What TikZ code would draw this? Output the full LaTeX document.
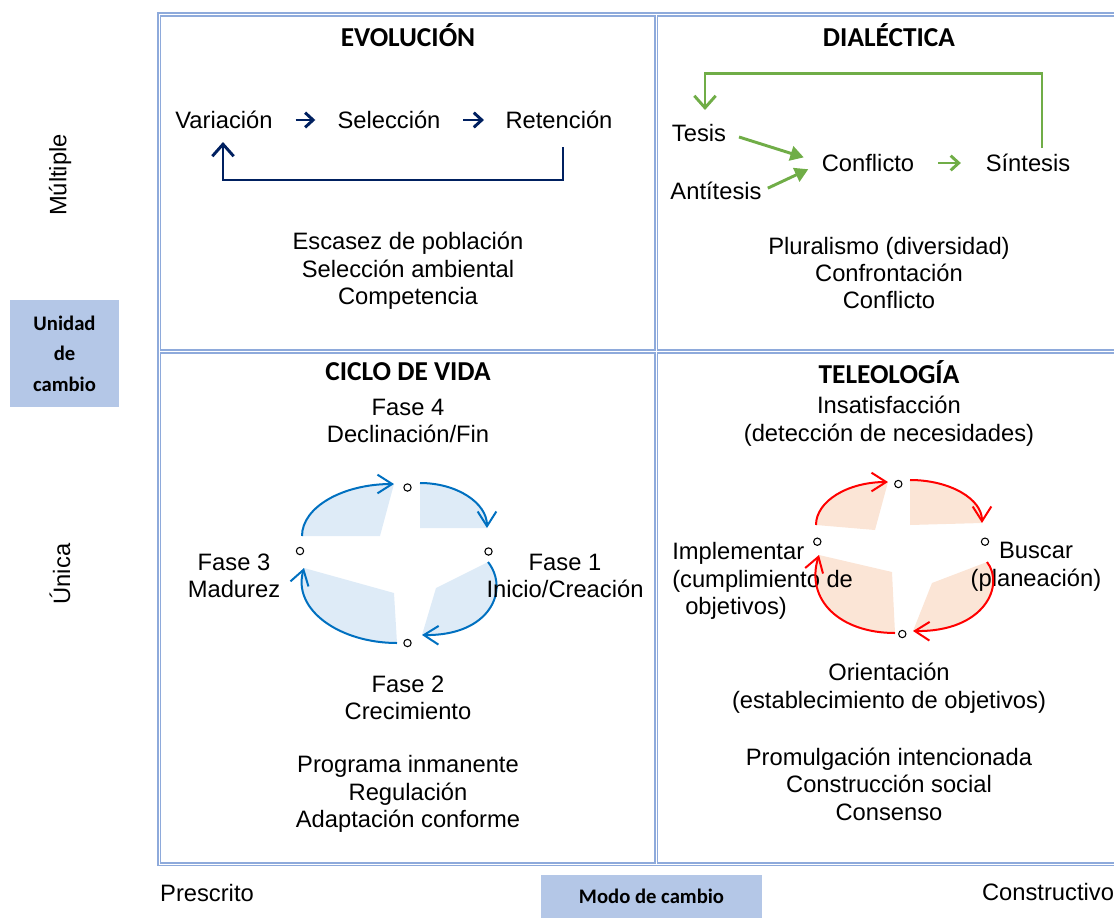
\documentclass[tikz,border=0pt]{standalone}
\usepackage{fontspec}
\setmainfont{Liberation Sans}
\newfontfamily\calibri{Carlito}
\usetikzlibrary{arrows.meta}

\definecolor{gridblue}{HTML}{8EAADB}
\definecolor{boxblue}{HTML}{B4C7E7}
\definecolor{navy}{HTML}{002060}
\definecolor{leafgreen}{HTML}{70AD47}
\definecolor{cycblue}{HTML}{0070C0}
\definecolor{cycfill}{HTML}{DEEBF7}
\definecolor{telred}{HTML}{FF0000}
\definecolor{telfill}{HTML}{FBE5D6}

\tikzset{
  txt/.style={font=\fontsize{17.8}{20.6}\selectfont, inner sep=0pt, align=center},
  head/.style={font=\calibri\bfseries\fontsize{20.5}{24}\selectfont, inner sep=0pt},
  lblbox/.style={fill=boxblue, inner sep=0pt, align=center,
    font=\calibri\bfseries\fontsize{15.5}{22.9}\selectfont},
  dot/.style={circle, draw, line width=0.8pt, fill=white, inner sep=0pt, minimum size=5.5pt},
  smallarr/.style={line width=2.2pt, -{Straight Barb[length=6pt,width=11pt]}},
  loopline/.style={line width=2.2pt, -{Straight Barb[length=9pt,width=16pt]}},
  diaarr/.style={leafgreen, line width=2.2pt, -{Triangle[length=10pt,width=11pt]}},
  cyc/.style={line width=1.5pt, -{Straight Barb[length=11pt,width=14pt]}}
}

\begin{document}
\begin{tikzpicture}[x=0.75pt, y=-0.75pt]
    \useasboundingbox (0,0) rectangle (1114,918);
    \clip (0,0) rectangle (1114,918);

    % Table frame (double rule)
    \foreach \w/\c in {3.1pt/gridblue, 0.9pt/white}
      \draw[line width=\w, draw=\c] (159.3,14.5) rectangle (1130,864.2)
        (656.2,14.5) -- (656.2,864.2) (159.3,351.5) -- (1130,351.5);

    % Side labels
    \node[txt, rotate=90] (mult) at (60,175) {Múltiple};
    \node[txt, rotate=90] (unic) at (60,574) {Única};
    \node[lblbox, minimum width=81.75pt, minimum height=80.25pt] (unidad) at (64.5,353.5) {Unidad\\de\\cambio};
    \node[txt] (presc) at (207,893) {Prescrito};
    \node[lblbox, minimum width=165.75pt, minimum height=32.25pt] (modo) at (651.5,896.5) {Modo de cambio};
    \node[txt] (constr) at (1048,892) {Constructivo};

    % Evolucion
    \node[head] (evo) at (408,35) {EVOLUCIÓN};
    \node[txt] (var) at (224,120) {Variación};
    \node[txt] (sel) at (389,120) {Selección};
    \node[txt] (ret) at (559,120) {Retención};
    \draw[smallarr, navy, shorten <=17pt, shorten >=16.5pt] (var.east) -- (sel.west);
    \draw[smallarr, navy, shorten <=17pt, shorten >=16pt] (sel.east) -- (ret.west);
    \coordinate (retb) at (563,147);
    \coordinate (varb) at (223,142);
    \draw[loopline, navy] (retb) -- ++(0,33) -| (varb);
    \node[txt] (evotxt) at (408,271) {Escasez de población\\Selección ambiental\\Competencia};

    % Dialectica
    \node[head] (dia) at (889,35) {DIALÉCTICA};
    \node[txt] (tes) at (699,133) {Tesis};
    \node[txt] (ant) at (716,191) {Antítesis};
    \node[txt] (conf) at (868,163) {Conflicto};
    \node[txt] (sin) at (1028,163) {Síntesis};
    \draw[diaarr, shorten <=10pt, shorten >=14pt] (tes.east) -- (conf.west);
    \draw[diaarr, shorten <=5pt, shorten >=11pt] (ant.east) -- (conf.west);
    \draw[smallarr, leafgreen, shorten <=18pt, shorten >=18.5pt] (conf.east) -- (sin.west);
    \coordinate (sinb) at (1042,148);
    \coordinate (tesb) at (705,110);
    \draw[loopline, leafgreen] (sinb) -- ++(0,-74.5) -| (tesb);
    \node[txt] (diatxt) at (889,273) {Pluralismo (diversidad)\\Confrontación\\Conflicto};

    % Ciclo de vida
    \node[head] (cic) at (408,372) {CICLO DE VIDA};
    \fill[cycfill] (302,536) .. controls (302,507) and (343,484) .. (394,484) -- (380,536) -- cycle;
    \fill[cycfill] (420,483) .. controls (457,483) and (487,503) .. (487,528) -- (420,528) -- cycle;
    \fill[cycfill] (488,562) .. controls (510,590) and (490,636) .. (422,635) -- (436,588) -- cycle;
    \fill[cycfill] (397,643) .. controls (340,643) and (292,610) .. (304,568) -- (394,593) -- cycle;
    \draw[cyc, cycblue] (302,536) .. controls (302,507) and (343,484) .. (394,484);
    \draw[cyc, cycblue] (420,483) .. controls (457,483) and (487,503) .. (487,528);
    \draw[cyc, cycblue] (488,562) .. controls (510,590) and (490,636) .. (422,635);
    \draw[cyc, cycblue] (397,643) .. controls (340,643) and (292,610) .. (304,568);
    \node[dot] (f4dot) at (407.5,487.5) {};
    \node[dot] (f1dot) at (488.5,551.5) {};
    \node[dot] (f2dot) at (407.5,643) {};
    \node[dot] (f3dot) at (300,551) {};
    \node[txt] (f4) at (408,421) {Fase 4\\Declinación/Fin};
    \node[txt] (f1) at (565,576) {Fase 1\\Inicio/Creación};
    \node[txt] (f3) at (234,576) {Fase 3\\Madurez};
    \node[txt] (f2) at (408,698) {Fase 2\\Crecimiento};
    \node[txt] (cictxt) at (408,794) {Programa inmanente\\Regulación\\Adaptación conforme};

    % Teleologia
    \node[head] (tel) at (889,372) {TELEOLOGÍA};
    \fill[telfill] (816,525) .. controls (816,501) and (848,482) .. (888,482) -- (875,530) -- cycle;
    \fill[telfill] (910,480) .. controls (950,480) and (982,499) .. (982,523) -- (910,525) -- cycle;
    \fill[telfill] (987,562) .. controls (1005,585) and (985,632) .. (913,631) -- (932,583) -- cycle;
    \fill[telfill] (895,633) .. controls (840,633) and (805,600) .. (819,555) -- (892,572) -- cycle;
    \node[txt] (ins) at (889,421) {Insatisfacción\\(detección de necesidades)};
    \node[txt, anchor=west, align=left] (imp) at (672,581) {Implementar\\(cumplimiento de\\\hspace*{9.75pt}objetivos)};
    \node[txt] (bus) at (1036,567) {Buscar\\(planeación)};
    \node[txt] (ori) at (889,688) {Orientación\\(establecimiento de objetivos)};
    \draw[cyc, telred] (816,525) .. controls (816,501) and (848,482) .. (888,482);
    \draw[cyc, telred] (910,480) .. controls (950,480) and (982,499) .. (982,523);
    \draw[cyc, telred] (987,562) .. controls (1005,585) and (985,632) .. (913,631);
    \draw[cyc, telred] (895,633) .. controls (840,633) and (805,600) .. (819,555);
    \node[dot] (insdot) at (898.3,484) {};
    \node[dot] (busdot) at (985,541.7) {};
    \node[dot] (oridot) at (902.3,634) {};
    \node[dot] (impdot) at (817.3,541.7) {};
    \node[txt] (teltxt) at (889,784) {Promulgación intencionada\\Construcción social\\Consenso};
\end{tikzpicture}
\end{document}
